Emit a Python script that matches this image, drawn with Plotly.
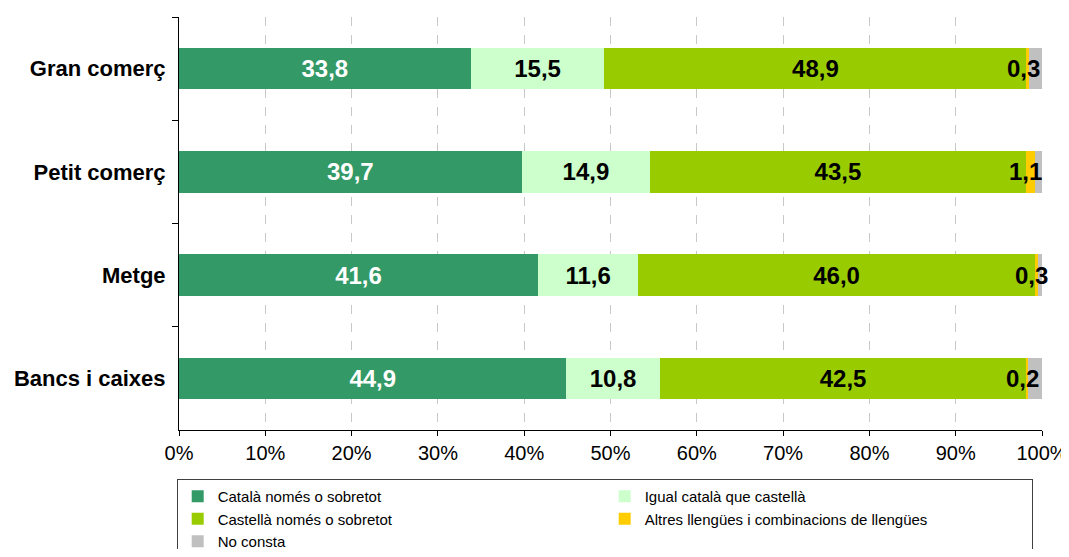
import plotly.graph_objects as go

categories = ["Gran comerç", "Petit comerç", "Metge", "Bancs i caixes"]
series_names = [
    "Català només o sobretot",
    "Igual català que castellà",
    "Castellà només o sobretot",
    "Altres llengües i combinacions de llengües",
    "No consta",
]
catala = [33.8, 39.7, 41.6, 44.9]
igual = [15.5, 14.9, 11.6, 10.8]
castella = [48.9, 43.5, 46.0, 42.5]
altres = [0.3, 1.1, 0.3, 0.2]
no_consta = [1.5, 0.8, 0.5, 1.6]
x_ticks = [0, 10, 20, 30, 40, 50, 60, 70, 80, 90, 100]

colors = ["#339966", "#CCFFCC", "#99CC00", "#FFCC00", "#C0C0C0"]
label_colors = ["white", "black", "black", None, None]
values = [catala, igual, castella, altres, no_consta]
FONT = "Liberation Sans, Arial"


def fmt(v):
    return f"{v:.1f}".replace(".", ",")


fig = go.Figure()
for name, vals, col, lc in zip(series_names, values, colors, label_colors):
    fig.add_trace(go.Bar(
        y=categories, x=vals, name=name, orientation="h",
        marker=dict(color=col, line=dict(width=0)),
        text=[fmt(v) for v in vals] if lc else None,
        textposition="inside", insidetextanchor="middle",
        textfont=dict(color=lc or "black", size=24, family=FONT, weight="bold"),
        constraintext="none",
        hoverinfo="x+y+name",
    ))

# labels for the small "altres" segment (Excel pushes them inside the plot area)
base = [a + b + c for a, b, c in zip(catala, igual, castella)]
for cat, b, a in zip(categories, base, altres):
    fig.add_annotation(
        x=b + a / 2, y=cat, text=fmt(a), showarrow=False,
        xanchor="right", xshift=14,
        font=dict(color="black", size=24, family=FONT, weight="bold"),
    )

# page has an 8px body margin, so the figure is sized to fit inside the window
fig.update_layout(
    barmode="stack",
    bargap=0.6,
    width=1061, height=541,
    margin=dict(l=171, r=27, t=9, b=119),
    plot_bgcolor="white", paper_bgcolor="white",
    font=dict(family=FONT, size=20, color="black"),
    legend=dict(
        orientation="h",
        xref="container", x=0.159, xanchor="left",
        yref="container", y=0.1294, yanchor="top",
        entrywidth=382, entrywidthmode="pixels",
        bordercolor="#404040", borderwidth=1,
        font=dict(size=15, family=FONT),
        itemwidth=30, tracegroupgap=0,
        traceorder="normal",
    ),
    xaxis=dict(
        range=[0, 100], tickvals=x_ticks, ticktext=[f"{v}%" for v in x_ticks],
        showgrid=True, gridcolor="#c8c8c8", griddash="dash", gridwidth=1,
        showline=True, linecolor="black", linewidth=1,
        ticks="outside", ticklen=5, tickcolor="black",
        zeroline=False, tickfont=dict(size=20), automargin=False,
    ),
    yaxis=dict(
        categoryorder="array", categoryarray=categories, autorange="reversed",
        showline=True, linecolor="black", linewidth=1,
        ticks="outside", ticklen=6, tickcolor="black", tickson="boundaries",
        showgrid=False, automargin=False,
        tickfont=dict(size=22, weight="bold"),
        ticklabelstandoff=8,
    ),
)

fig.write_html("out.html")
